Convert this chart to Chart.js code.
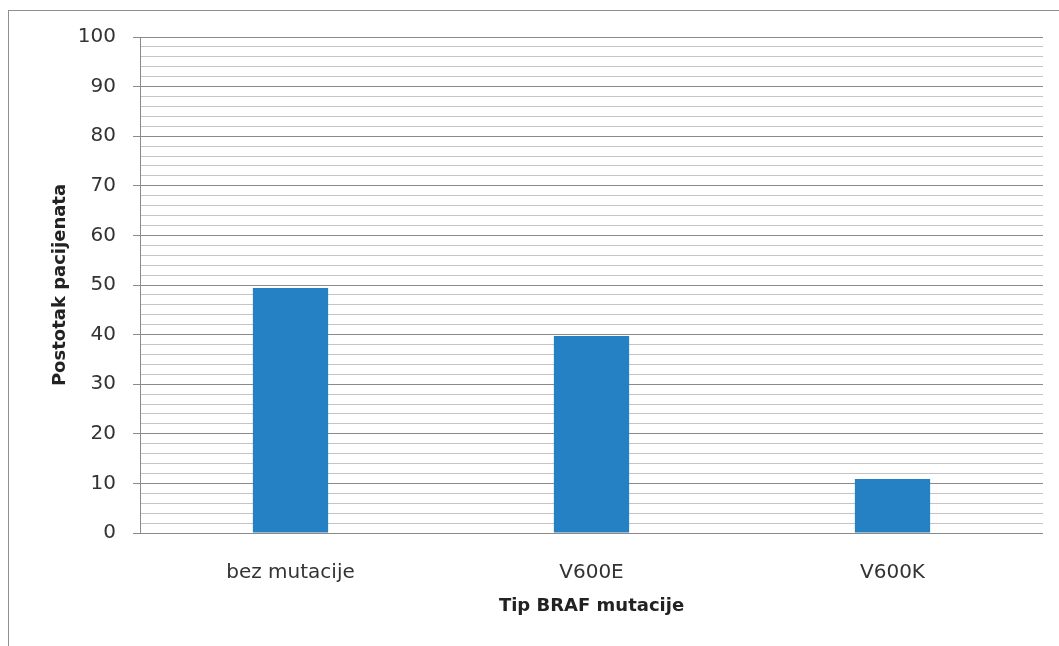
<!DOCTYPE html>
<html>
<head>
<meta charset="utf-8">
<script src="https://cdn.jsdelivr.net/npm/chart.js@4"></script>
<style>
  html, body { margin: 0; padding: 0; background: #fff; overflow: hidden; }
  #frame { position: absolute; left: 8px; top: 10px; width: 2000px; height: 2000px;
           border-top: 1px solid #8f8f8f; border-left: 1px solid #8f8f8f; }
  #c { position: absolute; left: 0; top: 0; }
</style>
</head>
<body>
<div id="frame"></div>
<canvas id="c" width="1059" height="646"></canvas>
<script>
const categories = ['bez mutacije', 'V600E', 'V600K'];
const values = [49.4, 39.7, 10.9];
const yMin = 0, yMax = 100, yMajorStep = 10, yMinorStep = 2;
const xTitle = 'Tip BRAF mutacije';
const yTitle = 'Postotak pacijenata';

const barColor = '#2681c4';
const majorGrid = '#8a8a8a';
const minorGrid = '#c4c4c4';

new Chart(document.getElementById('c'), {
  type: 'bar',
  data: {
    labels: categories,
    datasets: [{ data: values, backgroundColor: barColor, borderWidth: 0,
                 categoryPercentage: 1, barPercentage: 0.25 }]
  },
  options: {
    responsive: false,
    animation: false,
    devicePixelRatio: 1,
    layout: { padding: { top: 37, right: 16, left: 0, bottom: 0 } },
    plugins: { legend: { display: false }, tooltip: { enabled: false } },
    scales: {
      x: {
        grid: { display: false },
        border: { display: false },
        ticks: { color: '#333', padding: 20, font: { family: 'DejaVu Sans', size: 20 } },
        title: { display: true, text: xTitle, color: '#222',
                 font: { family: 'DejaVu Sans', size: 18, weight: 'bold' },
                 padding: { top: 0, bottom: 29 } },
        afterFit: s => { s.height = 113; }
      },
      y: {
        min: yMin, max: yMax,
        border: { display: true, color: majorGrid, width: 1 },
        grid: {
          color: c => (c.tick && c.tick.value % yMajorStep === 0) ? majorGrid : minorGrid,
          tickColor: c => (c.tick && c.tick.value % yMajorStep === 0) ? majorGrid : 'rgba(0,0,0,0)',
          tickLength: 7, lineWidth: 1
        },
        ticks: {
          stepSize: yMinorStep, autoSkip: false, padding: 17, color: '#333',
          font: { family: 'DejaVu Sans', size: 20 },
          callback: v => (v % yMajorStep === 0 ? String(v) : '')
        },
        title: { display: true, text: yTitle, color: '#222',
                 font: { family: 'DejaVu Sans', size: 18, weight: 'bold' },
                 padding: { top: 50, bottom: 0 } },
        afterFit: s => { s.width = 140; }
      }
    }
  }
});
</script>
</body>
</html>
